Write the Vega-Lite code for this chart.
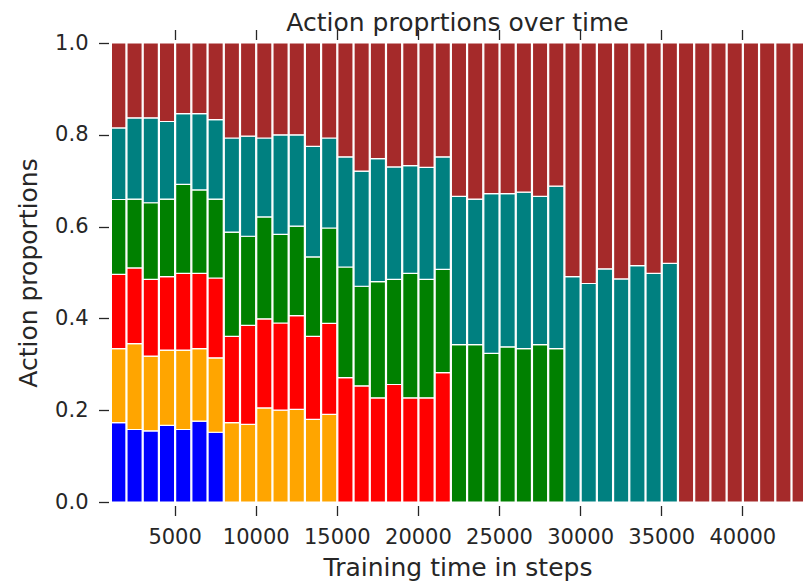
{
  "$schema": "https://vega.github.io/schema/vega-lite/v6.json",
  "width": 691,
  "height": 459,
  "autosize": {"type": "none"},
  "padding": {"left": 112, "top": 43, "right": 3, "bottom": 83},
  "background": "white",
  "title": {"text": "Action proprtions over time", "fontSize": 25, "font": "DejaVu Sans", "fontWeight": "normal", "color": "#262626", "anchor": "middle", "frame": "group", "baseline": "alphabetic", "offset": 0, "dy": 27},
  "data": {"values": [
    {"step_from":1000,"step_to":2000,"action":"a0","proportion":0.173},{"step_from":1000,"step_to":2000,"action":"a1","proportion":0.161},{"step_from":1000,"step_to":2000,"action":"a2","proportion":0.162},{"step_from":1000,"step_to":2000,"action":"a3","proportion":0.163},{"step_from":1000,"step_to":2000,"action":"a4","proportion":0.156},{"step_from":1000,"step_to":2000,"action":"a5","proportion":0.185},
    {"step_from":2000,"step_to":3000,"action":"a0","proportion":0.158},{"step_from":2000,"step_to":3000,"action":"a1","proportion":0.187},{"step_from":2000,"step_to":3000,"action":"a2","proportion":0.165},{"step_from":2000,"step_to":3000,"action":"a3","proportion":0.150},{"step_from":2000,"step_to":3000,"action":"a4","proportion":0.177},{"step_from":2000,"step_to":3000,"action":"a5","proportion":0.163},
    {"step_from":3000,"step_to":4000,"action":"a0","proportion":0.155},{"step_from":3000,"step_to":4000,"action":"a1","proportion":0.163},{"step_from":3000,"step_to":4000,"action":"a2","proportion":0.167},{"step_from":3000,"step_to":4000,"action":"a3","proportion":0.167},{"step_from":3000,"step_to":4000,"action":"a4","proportion":0.185},{"step_from":3000,"step_to":4000,"action":"a5","proportion":0.163},
    {"step_from":4000,"step_to":5000,"action":"a0","proportion":0.167},{"step_from":4000,"step_to":5000,"action":"a1","proportion":0.164},{"step_from":4000,"step_to":5000,"action":"a2","proportion":0.160},{"step_from":4000,"step_to":5000,"action":"a3","proportion":0.169},{"step_from":4000,"step_to":5000,"action":"a4","proportion":0.169},{"step_from":4000,"step_to":5000,"action":"a5","proportion":0.171},
    {"step_from":5000,"step_to":6000,"action":"a0","proportion":0.158},{"step_from":5000,"step_to":6000,"action":"a1","proportion":0.173},{"step_from":5000,"step_to":6000,"action":"a2","proportion":0.167},{"step_from":5000,"step_to":6000,"action":"a3","proportion":0.194},{"step_from":5000,"step_to":6000,"action":"a4","proportion":0.154},{"step_from":5000,"step_to":6000,"action":"a5","proportion":0.154},
    {"step_from":6000,"step_to":7000,"action":"a0","proportion":0.176},{"step_from":6000,"step_to":7000,"action":"a1","proportion":0.158},{"step_from":6000,"step_to":7000,"action":"a2","proportion":0.164},{"step_from":6000,"step_to":7000,"action":"a3","proportion":0.182},{"step_from":6000,"step_to":7000,"action":"a4","proportion":0.166},{"step_from":6000,"step_to":7000,"action":"a5","proportion":0.154},
    {"step_from":7000,"step_to":8000,"action":"a0","proportion":0.152},{"step_from":7000,"step_to":8000,"action":"a1","proportion":0.162},{"step_from":7000,"step_to":8000,"action":"a2","proportion":0.174},{"step_from":7000,"step_to":8000,"action":"a3","proportion":0.172},{"step_from":7000,"step_to":8000,"action":"a4","proportion":0.173},{"step_from":7000,"step_to":8000,"action":"a5","proportion":0.167},
    {"step_from":8000,"step_to":9000,"action":"a1","proportion":0.173},{"step_from":8000,"step_to":9000,"action":"a2","proportion":0.188},{"step_from":8000,"step_to":9000,"action":"a3","proportion":0.227},{"step_from":8000,"step_to":9000,"action":"a4","proportion":0.205},{"step_from":8000,"step_to":9000,"action":"a5","proportion":0.207},
    {"step_from":9000,"step_to":10000,"action":"a1","proportion":0.169},{"step_from":9000,"step_to":10000,"action":"a2","proportion":0.216},{"step_from":9000,"step_to":10000,"action":"a3","proportion":0.194},{"step_from":9000,"step_to":10000,"action":"a4","proportion":0.218},{"step_from":9000,"step_to":10000,"action":"a5","proportion":0.203},
    {"step_from":10000,"step_to":11000,"action":"a1","proportion":0.205},{"step_from":10000,"step_to":11000,"action":"a2","proportion":0.194},{"step_from":10000,"step_to":11000,"action":"a3","proportion":0.222},{"step_from":10000,"step_to":11000,"action":"a4","proportion":0.172},{"step_from":10000,"step_to":11000,"action":"a5","proportion":0.207},
    {"step_from":11000,"step_to":12000,"action":"a1","proportion":0.200},{"step_from":11000,"step_to":12000,"action":"a2","proportion":0.190},{"step_from":11000,"step_to":12000,"action":"a3","proportion":0.193},{"step_from":11000,"step_to":12000,"action":"a4","proportion":0.217},{"step_from":11000,"step_to":12000,"action":"a5","proportion":0.200},
    {"step_from":12000,"step_to":13000,"action":"a1","proportion":0.202},{"step_from":12000,"step_to":13000,"action":"a2","proportion":0.204},{"step_from":12000,"step_to":13000,"action":"a3","proportion":0.195},{"step_from":12000,"step_to":13000,"action":"a4","proportion":0.199},{"step_from":12000,"step_to":13000,"action":"a5","proportion":0.200},
    {"step_from":13000,"step_to":14000,"action":"a1","proportion":0.180},{"step_from":13000,"step_to":14000,"action":"a2","proportion":0.181},{"step_from":13000,"step_to":14000,"action":"a3","proportion":0.173},{"step_from":13000,"step_to":14000,"action":"a4","proportion":0.241},{"step_from":13000,"step_to":14000,"action":"a5","proportion":0.225},
    {"step_from":14000,"step_to":15000,"action":"a1","proportion":0.191},{"step_from":14000,"step_to":15000,"action":"a2","proportion":0.198},{"step_from":14000,"step_to":15000,"action":"a3","proportion":0.208},{"step_from":14000,"step_to":15000,"action":"a4","proportion":0.196},{"step_from":14000,"step_to":15000,"action":"a5","proportion":0.207},
    {"step_from":15000,"step_to":16000,"action":"a2","proportion":0.271},{"step_from":15000,"step_to":16000,"action":"a3","proportion":0.241},{"step_from":15000,"step_to":16000,"action":"a4","proportion":0.240},{"step_from":15000,"step_to":16000,"action":"a5","proportion":0.248},
    {"step_from":16000,"step_to":17000,"action":"a2","proportion":0.253},{"step_from":16000,"step_to":17000,"action":"a3","proportion":0.217},{"step_from":16000,"step_to":17000,"action":"a4","proportion":0.251},{"step_from":16000,"step_to":17000,"action":"a5","proportion":0.279},
    {"step_from":17000,"step_to":18000,"action":"a2","proportion":0.227},{"step_from":17000,"step_to":18000,"action":"a3","proportion":0.253},{"step_from":17000,"step_to":18000,"action":"a4","proportion":0.268},{"step_from":17000,"step_to":18000,"action":"a5","proportion":0.252},
    {"step_from":18000,"step_to":19000,"action":"a2","proportion":0.256},{"step_from":18000,"step_to":19000,"action":"a3","proportion":0.229},{"step_from":18000,"step_to":19000,"action":"a4","proportion":0.245},{"step_from":18000,"step_to":19000,"action":"a5","proportion":0.270},
    {"step_from":19000,"step_to":20000,"action":"a2","proportion":0.227},{"step_from":19000,"step_to":20000,"action":"a3","proportion":0.271},{"step_from":19000,"step_to":20000,"action":"a4","proportion":0.235},{"step_from":19000,"step_to":20000,"action":"a5","proportion":0.267},
    {"step_from":20000,"step_to":21000,"action":"a2","proportion":0.227},{"step_from":20000,"step_to":21000,"action":"a3","proportion":0.258},{"step_from":20000,"step_to":21000,"action":"a4","proportion":0.244},{"step_from":20000,"step_to":21000,"action":"a5","proportion":0.271},
    {"step_from":21000,"step_to":22000,"action":"a2","proportion":0.282},{"step_from":21000,"step_to":22000,"action":"a3","proportion":0.225},{"step_from":21000,"step_to":22000,"action":"a4","proportion":0.245},{"step_from":21000,"step_to":22000,"action":"a5","proportion":0.248},
    {"step_from":22000,"step_to":23000,"action":"a3","proportion":0.343},{"step_from":22000,"step_to":23000,"action":"a4","proportion":0.323},{"step_from":22000,"step_to":23000,"action":"a5","proportion":0.334},
    {"step_from":23000,"step_to":24000,"action":"a3","proportion":0.343},{"step_from":23000,"step_to":24000,"action":"a4","proportion":0.317},{"step_from":23000,"step_to":24000,"action":"a5","proportion":0.340},
    {"step_from":24000,"step_to":25000,"action":"a3","proportion":0.324},{"step_from":24000,"step_to":25000,"action":"a4","proportion":0.348},{"step_from":24000,"step_to":25000,"action":"a5","proportion":0.328},
    {"step_from":25000,"step_to":26000,"action":"a3","proportion":0.338},{"step_from":25000,"step_to":26000,"action":"a4","proportion":0.334},{"step_from":25000,"step_to":26000,"action":"a5","proportion":0.328},
    {"step_from":26000,"step_to":27000,"action":"a3","proportion":0.334},{"step_from":26000,"step_to":27000,"action":"a4","proportion":0.341},{"step_from":26000,"step_to":27000,"action":"a5","proportion":0.325},
    {"step_from":27000,"step_to":28000,"action":"a3","proportion":0.343},{"step_from":27000,"step_to":28000,"action":"a4","proportion":0.323},{"step_from":27000,"step_to":28000,"action":"a5","proportion":0.334},
    {"step_from":28000,"step_to":29000,"action":"a3","proportion":0.334},{"step_from":28000,"step_to":29000,"action":"a4","proportion":0.354},{"step_from":28000,"step_to":29000,"action":"a5","proportion":0.312},
    {"step_from":29000,"step_to":30000,"action":"a4","proportion":0.491},{"step_from":29000,"step_to":30000,"action":"a5","proportion":0.509},
    {"step_from":30000,"step_to":31000,"action":"a4","proportion":0.476},{"step_from":30000,"step_to":31000,"action":"a5","proportion":0.524},
    {"step_from":31000,"step_to":32000,"action":"a4","proportion":0.508},{"step_from":31000,"step_to":32000,"action":"a5","proportion":0.492},
    {"step_from":32000,"step_to":33000,"action":"a4","proportion":0.486},{"step_from":32000,"step_to":33000,"action":"a5","proportion":0.514},
    {"step_from":33000,"step_to":34000,"action":"a4","proportion":0.515},{"step_from":33000,"step_to":34000,"action":"a5","proportion":0.485},
    {"step_from":34000,"step_to":35000,"action":"a4","proportion":0.498},{"step_from":34000,"step_to":35000,"action":"a5","proportion":0.502},
    {"step_from":35000,"step_to":36000,"action":"a4","proportion":0.520},{"step_from":35000,"step_to":36000,"action":"a5","proportion":0.480},
    {"step_from":36000,"step_to":37000,"action":"a5","proportion":1.0},
    {"step_from":37000,"step_to":38000,"action":"a5","proportion":1.0},
    {"step_from":38000,"step_to":39000,"action":"a5","proportion":1.0},
    {"step_from":39000,"step_to":40000,"action":"a5","proportion":1.0},
    {"step_from":40000,"step_to":41000,"action":"a5","proportion":1.0},
    {"step_from":41000,"step_to":42000,"action":"a5","proportion":1.0},
    {"step_from":42000,"step_to":43000,"action":"a5","proportion":1.0},
    {"step_from":43000,"step_to":44000,"action":"a5","proportion":1.0}
  ]},
  "layer": [
    {
      "mark": {"type": "bar", "orient": "vertical", "stroke": "white", "strokeWidth": 1.2, "clip": true},
      "encoding": {
        "x": {"field": "step_from", "type": "quantitative", "bin": {"binned": true},
          "scale": {"domain": [1140, 43740], "nice": false, "zero": false},
          "axis": {"orient": "bottom", "values": [5000,10000,15000,20000,25000,30000,35000,40000], "format": "d", "domain": false, "grid": false, "offset": 3.5, "tickSize": 10, "tickWidth": 1.3, "tickColor": "#262626", "labelFontSize": 21, "labelFont": "DejaVu Sans", "labelColor": "#262626", "labelPadding": 11, "labelFlush": false, "labelOverlap": false, "title": "Training time in steps", "titleFontSize": 25, "titleFont": "DejaVu Sans", "titleFontWeight": "normal", "titleColor": "#262626", "titlePadding": 8}},
        "x2": {"field": "step_to"},
        "y": {"field": "proportion", "type": "quantitative", "stack": "zero",
          "scale": {"domain": [0, 1], "nice": false},
          "axis": {"values": [0, 0.2, 0.4, 0.6, 0.8, 1.0], "format": ".1f", "domain": false, "grid": false, "offset": 3.5, "tickSize": 10, "tickWidth": 1.3, "tickColor": "#262626", "labelFontSize": 21, "labelFont": "DejaVu Sans", "labelColor": "#262626", "labelPadding": 10.5, "labelFlush": false, "labelOverlap": false, "title": "Action proportions", "titleFontSize": 25, "titleFont": "DejaVu Sans", "titleFontWeight": "normal", "titleColor": "#262626", "titlePadding": 13}},
        "color": {"field": "action", "type": "nominal", "scale": {"domain": ["a0","a1","a2","a3","a4","a5"], "range": ["#0000FF","#FFA500","#FF0000","#008000","#008080","#A52A2A"]}, "legend": null},
        "order": {"field": "action", "sort": "ascending"}
      }
    },
    {
      "mark": {"type": "rule", "opacity": 0},
      "encoding": {
        "x": {"field": "step_from", "type": "quantitative",
          "axis": {"orient": "top", "values": [5000,10000,15000,20000,25000,30000,35000,40000], "labels": false, "domain": false, "grid": false, "offset": 3.5, "tickSize": 10, "tickWidth": 1.3, "tickColor": "#262626", "title": null}}
      }
    }
  ],
  "resolve": {"axis": {"x": "independent"}},
  "config": {"view": {"stroke": null}, "font": "DejaVu Sans"}
}
